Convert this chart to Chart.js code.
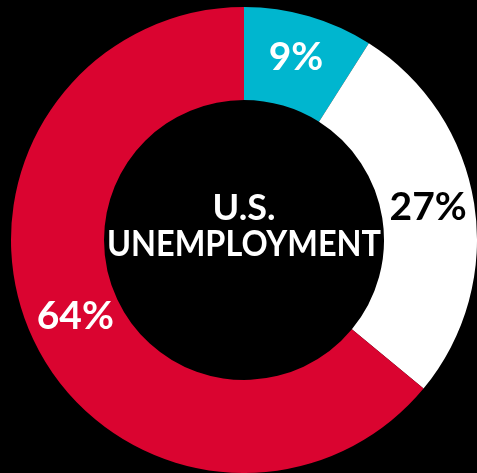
<!DOCTYPE html>
<html>
<head>
<meta charset="utf-8">
<script src="https://cdn.jsdelivr.net/npm/chart.js@4/dist/chart.umd.min.js"></script>
<style>
  html, body { margin: 0; padding: 0; background: #000; }
  canvas { display: block; }
</style>
</head>
<body>
<canvas id="chart" width="477" height="473"></canvas>
<script>
var labels = ['Short-term', 'Medium-term', 'Long-term'];
var shares = [9, 27, 64];
var sliceColors = ['#00b6cf', '#ffffff', '#da0430'];
var labelColors = ['#ffffff', '#000000', '#ffffff'];
var centerLines = ['U.S.', 'UNEMPLOYMENT'];

var fontFamily = 'Lato, "Open Sans", sans-serif';

// percentage text at the middle of each ring segment
var sliceLabels = {
  id: 'sliceLabels',
  afterDatasetsDraw: function (chart) {
    var ctx = chart.ctx;
    var meta = chart.getDatasetMeta(0);
    ctx.save();
    ctx.font = 'bold 39px ' + fontFamily;
    ctx.textAlign = 'center';
    ctx.textBaseline = 'middle';
    meta.data.forEach(function (arc, i) {
      var p = arc.tooltipPosition();
      ctx.fillStyle = labelColors[i];
      ctx.fillText(shares[i] + '%', p.x, p.y - 3);
    });
    ctx.restore();
  }
};

// title in the hole, squeezed to fit inside the ring
var centerText = {
  id: 'centerText',
  afterDraw: function (chart) {
    var ctx = chart.ctx;
    var arc = chart.getDatasetMeta(0).data[0];
    ctx.save();
    ctx.font = 'bold 36px ' + fontFamily;
    ctx.fillStyle = '#ffffff';
    ctx.textAlign = 'center';
    ctx.textBaseline = 'alphabetic';
    ctx.fillText(centerLines[0], arc.x, 220, 274);
    ctx.fillText(centerLines[1], arc.x, 256, 274);
    ctx.restore();
  }
};

var ctx = document.getElementById('chart').getContext('2d');
var myChart = new Chart(ctx, {
  type: 'doughnut',
  data: {
    labels: labels,
    datasets: [{
      data: shares,
      backgroundColor: sliceColors,
      borderWidth: 0
    }]
  },
  options: {
    responsive: false,
    animation: false,
    cutout: 140,
    layout: { padding: { left: 11, top: 7, right: 0, bottom: 0 } },
    plugins: {
      legend: { display: false },
      tooltip: { enabled: false }
    }
  },
  plugins: [sliceLabels, centerText]
});
</script>
</body>
</html>
